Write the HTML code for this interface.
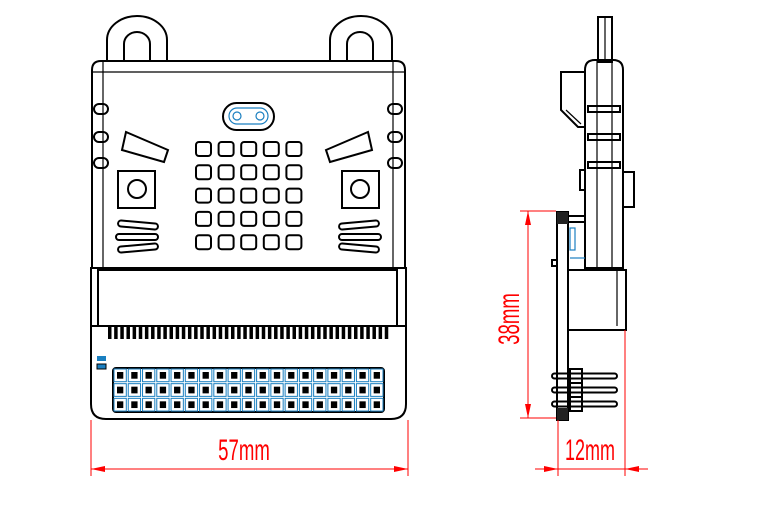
<!DOCTYPE html>
<html><head><meta charset="utf-8"><style>
html,body{margin:0;padding:0;background:#fff;width:761px;height:507px;overflow:hidden}
svg{display:block}
.k{fill:none;stroke:#000;stroke-width:2}
.t{fill:none;stroke:#000;stroke-width:1.2}
.b{fill:none;stroke:#1a7fc0;stroke-width:1.2}
.r{stroke:#ff0000;stroke-width:1;fill:none}
.dim{font-family:"Liberation Sans",sans-serif;font-size:30px;fill:#ff0000}
</style></head><body>
<svg id="drawing" width="761" height="507" viewBox="0 0 761 507" xmlns="http://www.w3.org/2000/svg">
<g>
  <path class="k" d="M107,62 V40 A30,24 0 0 1 167,40 V62"/>
  <path class="k" d="M124,62 V44 A13,12 0 0 1 150,44 V62"/>
  <path class="k" d="M330,62 V40 A31,24 0 0 1 392,40 V62"/>
  <path class="k" d="M347,62 V44 A13,12 0 0 1 373,44 V62"/>
  <path class="k" d="M92,268 V70 Q92,61 101,61 H396 Q405,61 405,70 V268"/>
  <line class="t" x1="92" y1="72" x2="405" y2="72"/>
  <line class="t" x1="103" y1="62" x2="103" y2="268"/>
  <line class="t" x1="393" y1="62" x2="393" y2="268"/>
  <g>
    <rect class="k" x="94" y="104" width="14" height="10" rx="5"/>
    <rect class="k" x="94" y="132" width="14" height="10" rx="5"/>
    <rect class="k" x="94" y="158" width="14" height="10" rx="5"/>
    <rect class="k" x="388" y="104" width="14" height="10" rx="5"/>
    <rect class="k" x="388" y="132" width="14" height="10" rx="5"/>
    <rect class="k" x="388" y="158" width="14" height="10" rx="5"/>
  </g>
  <rect class="k" x="223" y="103" width="51" height="27" rx="13.5"/>
  <rect class="b" x="229" y="108" width="39" height="16" rx="8"/>
  <circle class="b" cx="237" cy="116" r="4"/><circle class="b" cx="260" cy="116" r="4"/>
  <polygon class="k" points="126,132 122,150 164,162 168,150"/>
  <polygon class="k" points="368,132 372,150 330,162 326,150"/>
  <rect class="k" x="118" y="171" width="37" height="37"/>
  <circle class="k" cx="137" cy="189" r="9"/>
  <rect class="k" x="342" y="171" width="37" height="37"/>
  <circle class="k" cx="360" cy="189" r="9"/>
  <g>
    <rect class="k" x="118" y="222" width="40" height="6" rx="3" transform="rotate(5 138 225)"/>
    <rect class="k" x="116" y="234" width="42" height="6" rx="3"/>
    <rect class="k" x="118" y="245" width="40" height="6" rx="3" transform="rotate(-5 138 248)"/>
    <rect class="k" x="339" y="222" width="40" height="6" rx="3" transform="rotate(-5 359 225)"/>
    <rect class="k" x="339" y="234" width="42" height="6" rx="3"/>
    <rect class="k" x="339" y="245" width="40" height="6" rx="3" transform="rotate(5 359 248)"/>
  </g>
  <g id="leds"></g>
  <path class="k" d="M91,268 H406 V404 Q406,419 391,419 H106 Q91,419 91,404 Z"/>
  <rect class="k" x="98" y="270" width="299" height="56"/>
  <line class="k" x1="91" y1="326" x2="406" y2="326"/>
  <g id="pins"></g>
  <rect x="97" y="356" width="9" height="5" fill="#1a7fc0"/>
  <rect x="97" y="364" width="9" height="5" fill="#1a7fc0" stroke="#000"/>
  <g id="header"></g>
</g>
<g>
  <rect class="k" x="598" y="17" width="14" height="45"/>
  <line class="t" x1="605" y1="17" x2="605" y2="62"/>
  <path class="k" d="M585,268 V70 Q585,60 595,60 H613 Q623,60 623,70 V268 Z"/>
  <line class="t" x1="597" y1="60" x2="597" y2="268"/>
  <line class="t" x1="612" y1="60" x2="612" y2="268"/>
  <path class="k" d="M585,72 H561 V110 L578,127 H585"/>
  <line class="t" x1="566" y1="110" x2="581" y2="124"/>
  <g class="k">
    <rect x="588" y="106" width="32" height="6"/><rect x="588" y="134" width="32" height="6"/><rect x="588" y="162" width="32" height="6"/>
  </g>
  <rect class="k" x="623" y="172" width="11" height="35"/>
  <rect class="k" x="580" y="170" width="5" height="20"/>
  <rect class="k" x="557" y="212" width="11" height="208"/>
  <rect x="557" y="212" width="11" height="12" fill="#222"/>
  <rect x="557" y="408" width="11" height="12" fill="#222"/>
  <line class="k" x1="568" y1="216" x2="585" y2="216"/><line class="k" x1="568" y1="222" x2="585" y2="222"/>
  <rect class="b" x="570" y="228" width="5" height="22"/>
  <line class="b" x1="570" y1="258" x2="585" y2="258"/>
  <rect class="k" x="568" y="270" width="58" height="60"/>
  <line class="t" x1="617" y1="270" x2="617" y2="326"/>
  <rect class="k" x="552" y="260" width="5" height="6"/>
  <g id="sidepins"></g>
</g>
<g>
  <line class="r" x1="91" y1="420" x2="91" y2="476"/>
  <line class="r" x1="408" y1="420" x2="408" y2="476"/>
  <line class="r" x1="91" y1="469" x2="408" y2="469"/>
  <polygon points="91,469 105,466 105,472" fill="#ff0000"/>
  <polygon points="408,469 394,466 394,472" fill="#ff0000"/>
  <text class="dim" text-anchor="middle" transform="translate(244,460) scale(0.62,1)">57mm</text>
  <line class="r" x1="520" y1="211" x2="556" y2="211"/>
  <line class="r" x1="520" y1="418" x2="556" y2="418"/>
  <line class="r" x1="528" y1="211" x2="528" y2="418"/>
  <polygon points="528,211 525,225 531,225" fill="#ff0000"/>
  <polygon points="528,418 525,404 531,404" fill="#ff0000"/>
  <text class="dim" text-anchor="middle" transform="translate(519,319) rotate(-90) scale(0.62,1)">38mm</text>
  <line class="r" x1="558" y1="420" x2="558" y2="476"/>
  <line class="r" x1="625" y1="330" x2="625" y2="476"/>
  <line class="r" x1="535" y1="469" x2="648" y2="469"/>
  <polygon points="558,469 544,466 544,472" fill="#ff0000"/>
  <polygon points="625,469 639,466 639,472" fill="#ff0000"/>
  <text class="dim" text-anchor="middle" transform="translate(590,460) scale(0.6,1)">12mm</text>
</g>
</svg>
<script>
const NS="http://www.w3.org/2000/svg";
function mk(p,tag,a){const e=document.createElementNS(NS,tag);for(const k in a)e.setAttribute(k,a[k]);p.appendChild(e);return e;}
const leds=document.getElementById('leds');
for(let r=0;r<5;r++)for(let c=0;c<5;c++){
  const e=mk(leds,'rect',{x:196+c*22.6,y:142+r*23.3,width:15,height:14,rx:3,class:'k'});
  
  
}
const pins=document.getElementById('pins');
for(let i=0;i<46;i++){mk(pins,'rect',{x:108+i*6.15,y:327,width:3.5,height:12,fill:'#000'});}
const hd=document.getElementById('header');
mk(hd,'rect',{x:113,y:368,width:271,height:44,rx:3,class:'k'});
for(let c=0;c<19;c++)for(let r=0;r<3;r++){
  const x=113+c*14.26,y=368+r*14.67;
  mk(hd,'rect',{x:x+1,y:y+1,width:12.3,height:12.7,fill:'none',stroke:'#1a7fc0','stroke-width':1});
  const e=mk(hd,'rect',{x:x+4,y:y+4,width:6.3,height:6.7,fill:'#000'});
  
  
}
const sp=document.getElementById('sidepins');
[376,390,404].forEach(y=>{
  mk(sp,'rect',{x:552,y:y-2.5,width:65,height:5,rx:2.5,class:'k'});
  mk(sp,'rect',{x:570,y:y-7,width:12,height:14,class:'k'});
});
</script>
</body></html>
